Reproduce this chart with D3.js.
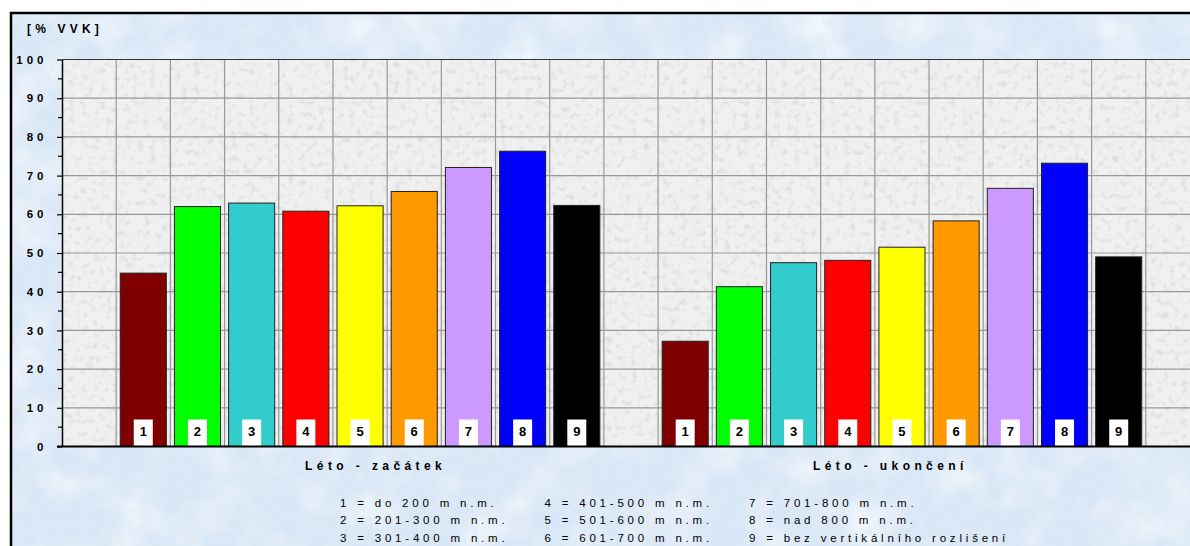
<!DOCTYPE html>
<html>
<head>
<meta charset="utf-8">
<script src="https://cdn.jsdelivr.net/npm/d3@7/dist/d3.min.js"></script>
<style>
  body { margin: 0; background: #fff; }
  svg { display: block; }
  text { font-family: "Liberation Sans", Arial, sans-serif; fill: #000; }
</style>
</head>
<body>
<div id="chart"></div>
<script>
var groups = ["Léto - začátek", "Léto - ukončení"];
var seriesKeys = ["1", "2", "3", "4", "5", "6", "7", "8", "9"];
var zacatek = [44.8, 62.0, 62.9, 60.8, 62.2, 65.9, 72.1, 76.3, 62.3];
var ukonceni = [27.2, 41.3, 47.5, 48.1, 51.5, 58.3, 66.7, 73.2, 49.0];
var yTicks = [0, 10, 20, 30, 40, 50, 60, 70, 80, 90, 100];
var yMinorTicks = [5, 15, 25, 35, 45, 55, 65, 75, 85, 95];
var legendLabels = [
  "1 = do 200 m n.m.", "2 = 201-300 m n.m.", "3 = 301-400 m n.m.",
  "4 = 401-500 m n.m.", "5 = 501-600 m n.m.", "6 = 601-700 m n.m.",
  "7 = 701-800 m n.m.", "8 = nad 800 m n.m.", "9 = bez vertikálního rozlišení"
];
var colors = ["#800000", "#00ff00", "#33cccc", "#ff0000", "#ffff00", "#ff9900", "#cc99ff", "#0000ff", "#000000"];

var width = 1190;
var height = 546;
var plotLeft = 62, plotTop = 59.5, plotBottom = 446.5, plotRight = 1200;

var svg = d3.select("#chart")
  .append("svg")
  .attr("width", width)
  .attr("height", height);

var defs = svg.append("defs");

// marble textures
function noiseFilter(id, freq, octaves, seed, rgb, gain, bias) {
  var f = defs.append("filter").attr("id", id)
    .attr("x", 0).attr("y", 0).attr("width", "100%").attr("height", "100%");
  f.append("feTurbulence").attr("type", "fractalNoise")
    .attr("baseFrequency", freq).attr("numOctaves", octaves).attr("seed", seed);
  f.append("feColorMatrix").attr("type", "matrix")
    .attr("values", "0 0 0 0 " + rgb[0] + "  0 0 0 0 " + rgb[1] + "  0 0 0 0 " + rgb[2] + "  " + gain + " 0 0 0 " + bias);
}
noiseFilter("marbleBlue", "0.02", 3, 7, [1, 1, 1], 1.4, -0.6);
noiseFilter("marbleBlueFine", "0.11", 3, 3, [0.76, 0.83, 0.92], 2.6, -1.35);
noiseFilter("marbleGray", "0.16", 2, 11, [0.74, 0.74, 0.74], 3.4, -1.75);

// outer chart area
svg.append("rect")
  .attr("x", 11).attr("y", 13).attr("width", 1200).attr("height", 560)
  .attr("fill", "#d9e7f6");
svg.append("rect")
  .attr("x", 12).attr("y", 14).attr("width", 1190).attr("height", 540)
  .attr("filter", "url(#marbleBlue)");
svg.append("rect")
  .attr("x", 12).attr("y", 14).attr("width", 1190).attr("height", 540)
  .attr("filter", "url(#marbleBlueFine)");
svg.append("rect")
  .attr("x", 11).attr("y", 13).attr("width", 1200).attr("height", 560)
  .attr("fill", "none").attr("stroke", "#000").attr("stroke-width", 2.5);

var y = d3.scaleLinear().domain([0, 100]).range([plotBottom, plotTop]);

var xSlot = d3.scaleBand()
  .domain(d3.range(21))
  .range([plotLeft, plotRight])
  .paddingInner(0.15)
  .paddingOuter(0.075);
var step = xSlot.step();
function slotStart(k) { return plotLeft + k * step; }

var xGroup = d3.scaleBand().domain(groups).range([slotStart(1), slotStart(20)]);

// plot area
svg.append("rect")
  .attr("x", plotLeft).attr("y", plotTop)
  .attr("width", plotRight - plotLeft).attr("height", plotBottom - plotTop)
  .attr("fill", "#f0f0f0");
svg.append("rect")
  .attr("x", plotLeft).attr("y", plotTop)
  .attr("width", plotRight - plotLeft).attr("height", plotBottom - plotTop)
  .attr("filter", "url(#marbleGray)");

// grid
svg.append("g").selectAll("line")
  .data(yTicks.slice(1, -1))
  .enter().append("line")
  .attr("x1", plotLeft).attr("x2", plotRight)
  .attr("y1", d => y(d)).attr("y2", d => y(d))
  .attr("stroke", "#999").attr("stroke-width", 1.2);

svg.append("g").selectAll("line")
  .data(d3.range(1, 21))
  .enter().append("line")
  .attr("x1", d => slotStart(d)).attr("x2", d => slotStart(d))
  .attr("y1", plotTop).attr("y2", plotBottom)
  .attr("stroke", "#999").attr("stroke-width", 1.2);

svg.append("line")
  .attr("x1", plotLeft).attr("x2", plotRight)
  .attr("y1", plotTop).attr("y2", plotTop)
  .attr("stroke", "#333").attr("stroke-width", 1);

// bars
var rows = [];
groups.forEach(function(gname, gi) {
  var vals = gi === 0 ? zacatek : ukonceni;
  seriesKeys.forEach(function(k, si) {
    rows.push({ group: gname, key: k, value: vals[si], slot: gi * 10 + si + 1, color: colors[si] });
  });
});

var bars = svg.append("g").selectAll("g")
  .data(rows)
  .enter().append("g");

bars.append("rect")
  .attr("x", d => xSlot(d.slot))
  .attr("y", d => y(d.value))
  .attr("width", xSlot.bandwidth())
  .attr("height", d => y(0) - y(d.value))
  .attr("fill", d => d.color)
  .attr("stroke", "#222")
  .attr("stroke-width", 1);

bars.append("rect")
  .attr("x", d => xSlot(d.slot) + xSlot.bandwidth() / 2 - 9.5)
  .attr("y", y(0) - 27)
  .attr("width", 19)
  .attr("height", 27)
  .attr("fill", "#fff");

bars.append("text")
  .attr("x", d => xSlot(d.slot) + xSlot.bandwidth() / 2)
  .attr("y", y(0) - 11)
  .attr("text-anchor", "middle")
  .style("font-size", "13px")
  .style("font-weight", "bold")
  .text(d => d.key);

// y axis
var yAxis = d3.axisLeft(y)
  .tickValues(yTicks)
  .tickSize(5)
  .tickSizeOuter(0)
  .tickPadding(9.5)
  .tickFormat(d3.format("d"));

var ax = svg.append("g")
  .attr("transform", "translate(" + plotLeft + ",0)")
  .call(yAxis);
ax.select(".domain").attr("stroke", "#000").attr("stroke-width", 1.5);
ax.selectAll(".tick line").attr("stroke", "#000").attr("stroke-width", 1.2);
ax.selectAll(".tick text")
  .attr("font-family", null)
  .style("font-size", "11.5px")
  .style("font-weight", "bold")
  .style("letter-spacing", "4px");

svg.append("g")
  .selectAll("line")
  .data(yMinorTicks)
  .enter().append("line")
  .attr("x1", plotLeft - 4).attr("x2", plotLeft)
  .attr("y1", d => y(d)).attr("y2", d => y(d))
  .attr("stroke", "#000").attr("stroke-width", 1.2);

svg.append("line")
  .attr("x1", plotLeft - 5).attr("x2", plotRight)
  .attr("y1", y(0)).attr("y2", y(0))
  .attr("stroke", "#000").attr("stroke-width", 2);

svg.append("text")
  .attr("x", 27).attr("y", 32.5)
  .style("font-size", "12px")
  .style("font-weight", "bold")
  .style("letter-spacing", "4.2px")
  .text("[% VVK]");

// category labels
svg.append("g").selectAll("text")
  .data(groups)
  .enter().append("text")
  .attr("x", d => xGroup(d) + xGroup.bandwidth() / 2 + 2)
  .attr("y", 469.5)
  .attr("text-anchor", "middle")
  .style("font-size", "12px")
  .style("font-weight", "bold")
  .style("letter-spacing", "4.4px")
  .text(d => d);

// legend
var legendX = d3.scaleLinear().domain([0, 1]).range([340, 544.5]);
svg.append("g").selectAll("text")
  .data(legendLabels)
  .enter().append("text")
  .attr("x", (d, i) => legendX(Math.floor(i / 3)))
  .attr("y", (d, i) => 506.5 + (i % 3) * 17.6)
  .style("font-size", "11.5px")
  .style("letter-spacing", "3.8px")
  .text(d => d);
</script>
</body>
</html>
